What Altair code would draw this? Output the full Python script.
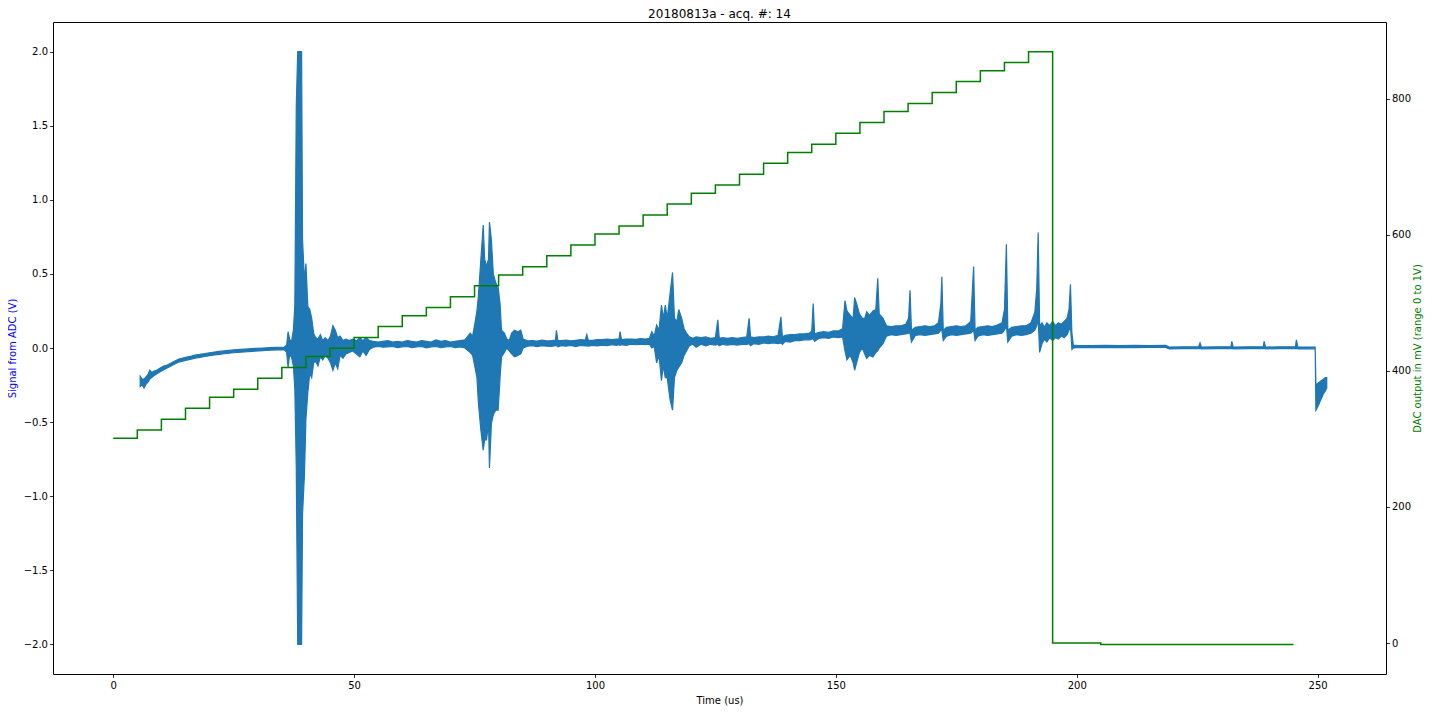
import altair as alt
import pandas as pd

# ---------------- data ----------------
x_ticks = [0, 50, 100, 150, 200, 250]
left_ticks = [-2.0, -1.5, -1.0, -0.5, 0.0, 0.5, 1.0, 1.5, 2.0]
right_ticks = [0, 200, 400, 600, 800]

# DAC output (mV), step-after
dac_t = [0, 5, 10, 15, 20, 25, 30, 35, 40, 45, 50, 55, 60, 65, 70, 75, 80, 85, 90, 95,
         100, 105, 110, 115, 120, 125, 130, 135, 140, 145, 150, 155, 160, 165, 170, 175,
         180, 185, 190, 195, 205, 245]
dac_mv = [301, 313, 329, 345, 361, 373, 389, 405, 421, 433, 449, 465, 481, 493, 509, 525,
          541, 553, 569, 585, 601, 613, 629, 645, 661, 673, 689, 705, 721, 733, 749, 765,
          781, 793, 809, 825, 841, 853, 869, 0, -2, -2]

# ADC signal (V): envelope (low / high) of the trace
sig_t = [
    5.6, 6.0, 6.4, 6.8, 7.2, 7.6, 8.0, 8.5, 9.0, 9.5, 10.0, 10.6, 11.2, 11.8, 12.4, 13.0,
    13.6, 14.2, 14.8, 15.5, 16.2, 17.0, 18.0, 19.0, 20.0, 21.0, 22.0, 23.5, 25.0, 26.5,
    28.0, 29.5, 31.0, 32.5, 34.0, 35.5,
    36.0, 36.3, 36.6, 37.0, 37.4, 37.7, 38.0, 38.3, 39.1, 39.3, 39.7, 40.0, 40.4, 40.8,
    41.2, 41.6, 42.0, 42.5, 43.0, 43.5, 44.0, 44.6, 45.1, 45.6, 46.1, 46.6, 47.1, 47.7,
    48.3, 49.0, 49.7, 50.5, 51.2, 51.8, 52.5, 53.2,
    54.0, 55.0, 56.0, 57.0, 58.0, 59.0, 60.0, 61.0, 62.0, 63.0, 64.0, 65.0, 66.0, 67.0,
    68.0, 69.0, 70.0, 71.0, 72.0, 73.0,
    74.1, 74.6, 75.1, 75.5, 75.8, 76.3, 76.8, 77.1, 77.5, 77.9, 78.1, 78.5, 78.9, 79.4,
    79.9, 80.3, 80.6, 81.2, 81.7, 82.2, 82.7, 83.3, 84.0, 84.6, 85.1,
    86.0, 87.0, 88.0, 89.0, 90.0, 91.0, 91.8, 92.0, 92.3, 93.0, 94.0, 95.0, 96.0, 97.0,
    98.0, 98.3, 98.6, 99.5, 100.5, 101.5, 102.5, 103.5, 104.5, 105.0, 105.2, 105.5, 106.5,
    107.5, 108.5, 109.5, 110.5, 111.3,
    111.8, 112.3, 112.8, 113.3, 113.8, 114.2, 114.6, 115.0, 115.6, 116.1, 116.5, 117.0,
    117.4, 118.0, 118.5, 119.0, 119.6, 120.3, 121.0, 122.0, 123.0, 124.0, 125.0, 125.5,
    125.8, 126.5, 127.5, 128.5, 129.5, 130.5, 131.5, 132.0, 132.3, 133.0, 134.0, 135.0,
    136.0, 137.0, 138.0, 138.6, 138.9,
    139.5, 140.5, 141.5, 142.5, 143.5, 144.5, 145.0, 145.3, 145.6, 146.5, 147.5, 148.5,
    149.5, 150.5, 151.4,
    151.9, 152.3, 153.0, 153.6, 153.9, 154.3, 154.9, 155.5, 156.0, 156.4, 157.0, 157.7,
    158.3, 158.7, 159.0, 159.8, 160.5, 161.5, 162.5, 163.5, 164.5, 165.1, 165.4, 165.7,
    166.5, 167.5, 168.5, 169.5, 170.5, 171.3, 171.8, 172.0, 172.3, 173.0, 174.0, 175.0,
    176.0, 177.0, 178.0, 178.6, 178.9, 179.5, 180.5, 181.5, 182.5, 183.5, 184.5, 185.0,
    185.4, 185.7, 186.5, 187.5, 188.5, 189.5, 190.5, 191.3, 191.7, 192.0, 192.3, 192.8,
    193.3, 193.8, 194.4, 195.0, 195.6, 196.2, 196.8, 197.4, 198.0, 198.4, 198.7, 199.0,
    199.3,
    200.0, 203.0, 206.0, 209.0, 212.0, 215.0, 218.5, 219.2, 222.0, 225.3, 225.6, 225.9,
    229.0, 232.0, 232.2, 232.5, 235.5, 238.7, 238.9, 239.2, 242.0, 245.4, 245.6, 245.9,
    249.5,
    249.65, 250.0, 250.4, 250.8, 251.2, 251.6, 251.9,
]
sig_lo = [
    -0.26, -0.25, -0.27, -0.245, -0.23, -0.21, -0.20, -0.185, -0.175, -0.165, -0.155,
    -0.145, -0.135, -0.125, -0.115, -0.105, -0.095, -0.09, -0.085, -0.08, -0.075, -0.068,
    -0.063, -0.057, -0.052, -0.047, -0.043, -0.037, -0.032, -0.028, -0.024, -0.021,
    -0.018, -0.015, -0.013, -0.011,
    -0.03, -0.13, -0.05, -0.06, -0.12, -0.28, -0.81, -2.0, -2.0, -1.12, -0.85, -0.48, -0.3,
    -0.17, -0.2, -0.1, -0.09, -0.12, -0.06, -0.08, -0.05, -0.07, -0.1, -0.15, -0.1, -0.14,
    -0.05, -0.07, -0.04, -0.03, -0.02, -0.04, -0.06, -0.02, -0.05, -0.01,
    0.005, 0.01, 0.005, 0.008, 0.01, 0.003, 0.008, 0.01, 0.003, 0.008, 0.01, 0.0, 0.008,
    0.01, 0.003, 0.008, 0.01, 0.003, 0.008, 0.0,
    -0.03, -0.05, -0.13, -0.2, -0.37, -0.55, -0.69, -0.62, -0.62, -0.5, -0.81, -0.51,
    -0.45, -0.42, -0.42, -0.2, -0.06, -0.03, 0.0, -0.02, -0.04, -0.06, -0.05, -0.04, 0.0,
    0.012, 0.016, 0.01, 0.016, 0.012, 0.01, 0.016, 0.016, 0.008, 0.016, 0.012, 0.018,
    0.01, 0.018, 0.014, 0.016, 0.012, 0.018, 0.014, 0.02, 0.016, 0.022, 0.018, 0.022,
    0.018, 0.022, 0.018, 0.026, 0.022, 0.026, 0.022, 0.026,
    0.0, 0.01, -0.1, -0.05, -0.22, -0.12, -0.2, -0.2, -0.35, -0.42, -0.2, -0.15, -0.13,
    -0.1, -0.05, -0.02, 0.015, 0.025, 0.005, 0.025, 0.015, 0.025, 0.02, 0.025, 0.015,
    0.025, 0.02, 0.025, 0.02, 0.025, 0.025, 0.03, 0.015, 0.03, 0.025, 0.035, 0.03, 0.035,
    0.03, 0.035, 0.025,
    0.045, 0.04, 0.05, 0.05, 0.055, 0.055, 0.06, 0.065, 0.045, 0.065, 0.07, 0.065, 0.075,
    0.07, 0.075,
    -0.02, -0.08, -0.05, -0.1, -0.15, -0.1, -0.03, 0.0, -0.04, -0.07, -0.05, -0.06, -0.03,
    -0.02, 0.0, 0.03, 0.08, 0.09, 0.085, 0.09, 0.095, 0.1, 0.1, 0.04, 0.085, 0.09, 0.085,
    0.09, 0.095, 0.1, 0.12, 0.12, 0.05, 0.08, 0.09, 0.085, 0.09, 0.095, 0.1, 0.12, 0.05,
    0.08, 0.09, 0.085, 0.09, 0.095, 0.1, 0.12, 0.15, 0.04, 0.08, 0.09, 0.085, 0.09, 0.1,
    0.12, 0.15, 0.2, -0.03, 0.03, 0.06, 0.04, 0.07, 0.05, 0.07, 0.06, 0.08, 0.07, 0.09,
    0.12, 0.15, -0.01, 0.0,
    0.002, 0.004, 0.002, 0.004, 0.002, 0.004, 0.004, -0.006, -0.004, -0.004, -0.003,
    -0.006, -0.004, -0.004, -0.003, -0.006, -0.004, -0.004, -0.003, -0.006, -0.004,
    -0.004, -0.003, -0.006, -0.004,
    -0.42, -0.40, -0.37, -0.34, -0.31, -0.29, -0.27,
]
sig_hi = [
    -0.19, -0.21, -0.21, -0.195, -0.18, -0.15, -0.165, -0.155, -0.15, -0.14, -0.13,
    -0.12, -0.115, -0.105, -0.095, -0.085, -0.075, -0.07, -0.065, -0.06, -0.055, -0.048,
    -0.043, -0.037, -0.032, -0.027, -0.023, -0.018, -0.013, -0.009, -0.006, -0.003, 0.0,
    0.002, 0.004, 0.006,
    0.02, 0.11, 0.06, 0.04, 0.12, 0.29, 1.64, 2.0, 2.0, 0.73, 0.45, 0.57, 0.28, 0.26, 0.2,
    0.1, 0.07, 0.06, 0.09, 0.05, 0.07, 0.05, 0.08, 0.15, 0.12, 0.07, 0.08, 0.05, 0.06,
    0.05, 0.06, 0.05, 0.07, 0.05, 0.07, 0.05,
    0.045, 0.04, 0.045, 0.05, 0.04, 0.045, 0.04, 0.05, 0.045, 0.04, 0.05, 0.045, 0.04,
    0.055, 0.045, 0.05, 0.04, 0.045, 0.05, 0.055,
    0.10, 0.08, 0.17, 0.25, 0.35, 0.59, 0.83, 0.6, 0.55, 0.6, 0.85, 0.73, 0.5, 0.44, 0.41,
    0.3, 0.12, 0.1, 0.06, 0.05, 0.1, 0.12, 0.11, 0.12, 0.06,
    0.048, 0.05, 0.046, 0.054, 0.048, 0.05, 0.054, 0.12, 0.052, 0.05, 0.054, 0.048, 0.052,
    0.056, 0.054, 0.09, 0.054, 0.052, 0.056, 0.056, 0.06, 0.056, 0.06, 0.06, 0.11, 0.056,
    0.06, 0.06, 0.058, 0.064, 0.06, 0.066,
    0.11, 0.08, 0.155, 0.12, 0.29, 0.2, 0.29, 0.2, 0.37, 0.51, 0.2, 0.18, 0.26, 0.2, 0.13,
    0.1, 0.075, 0.065, 0.075, 0.07, 0.075, 0.065, 0.07, 0.19, 0.065, 0.07, 0.065, 0.07,
    0.065, 0.07, 0.075, 0.2, 0.075, 0.07, 0.075, 0.075, 0.08, 0.075, 0.085, 0.21, 0.075,
    0.085, 0.09, 0.09, 0.095, 0.095, 0.1, 0.115, 0.30, 0.095, 0.105, 0.11, 0.105, 0.115,
    0.115, 0.13,
    0.32, 0.25, 0.22, 0.2, 0.34, 0.3, 0.23, 0.2, 0.2, 0.245, 0.22, 0.25, 0.26, 0.47, 0.23,
    0.2, 0.15, 0.145, 0.15, 0.15, 0.16, 0.2, 0.39, 0.12, 0.14, 0.145, 0.15, 0.145, 0.15,
    0.17, 0.3, 0.48, 0.12, 0.14, 0.145, 0.15, 0.145, 0.15, 0.18, 0.55, 0.12, 0.14, 0.145,
    0.15, 0.145, 0.155, 0.17, 0.26, 0.70, 0.12, 0.14, 0.145, 0.15, 0.15, 0.17, 0.24, 0.4,
    0.78, 0.15, 0.17, 0.14, 0.17, 0.15, 0.18, 0.15, 0.17, 0.16, 0.18, 0.2, 0.26, 0.43,
    0.1, 0.02,
    0.018, 0.016, 0.018, 0.016, 0.018, 0.016, 0.018, 0.006, 0.008, 0.008, 0.035, 0.006,
    0.008, 0.008, 0.045, 0.006, 0.008, 0.008, 0.045, 0.006, 0.008, 0.008, 0.055, 0.006,
    0.006,
    -0.25, -0.24, -0.23, -0.22, -0.21, -0.2, -0.2,
]

BLUE = "#1f77b4"
GREEN = "#008000"
FONT = "DejaVu Sans"

sig = pd.DataFrame({"t": sig_t, "lo": sig_lo, "hi": sig_hi})
dac = pd.DataFrame({"t": dac_t, "mv": dac_mv})

xscale = alt.Scale(domain=[-12.5, 264.2], nice=False, zero=False)


def x_axis():
    return alt.Axis(values=x_ticks, title="Time (us)", titlePadding=5, labelPadding=3)


area = alt.Chart(sig).mark_area(
    color=BLUE, stroke=BLUE, strokeWidth=1.2, fillOpacity=1, opacity=1
).encode(
    x=alt.X("t:Q", scale=xscale, axis=x_axis()),
    y=alt.Y(
        "lo:Q",
        scale=alt.Scale(domain=[-2.2, 2.2], nice=False, zero=False),
        axis=alt.Axis(
            values=left_ticks,
            orient="left",
            title="Signal from ADC (V)",
            titleColor="#0000ff",
            titlePadding=6,
            labelExpr="replace(format(datum.value, '.1f'), '-', '\u2212')",
        ),
    ),
    y2="hi:Q",
)

dac_line = alt.Chart(dac).mark_line(
    color=GREEN, strokeWidth=1.5, interpolate="step-after"
).encode(
    x=alt.X("t:Q", scale=xscale, axis=x_axis()),
    y=alt.Y(
        "mv:Q",
        scale=alt.Scale(domain=[-45.5, 912.6], nice=False, zero=False),
        axis=alt.Axis(
            values=right_ticks,
            orient="right",
            title="DAC output in mV (range 0 to 1V)",
            titleColor=GREEN,
            titleAngle=270,
            titlePadding=12,
        ),
    ),
)

chart = (
    alt.layer(area, dac_line)
    .resolve_scale(y="independent")
    .properties(
        width=1333,
        height=652,
        title=alt.TitleParams(
            "20180813a - acq. #: 14", fontSize=12, font=FONT, fontWeight="normal",
            color="black", offset=1
        ),
        autosize=alt.AutoSizeParams(type="none"),
        padding={"left": 45, "top": 14, "right": 38, "bottom": 32},
    )
    .configure_view(stroke="black", strokeWidth=1)
    .configure_axis(
        grid=False,
        domain=False,
        tickColor="black",
        tickSize=3.5,
        tickWidth=0.8,
        labelColor="black",
        labelFont=FONT,
        labelFontSize=10,
        titleFont=FONT,
        titleFontSize=10,
        titleFontWeight="normal",
    )
)

chart.save("out.html", embed_options={"renderer": "svg", "actions": False})
